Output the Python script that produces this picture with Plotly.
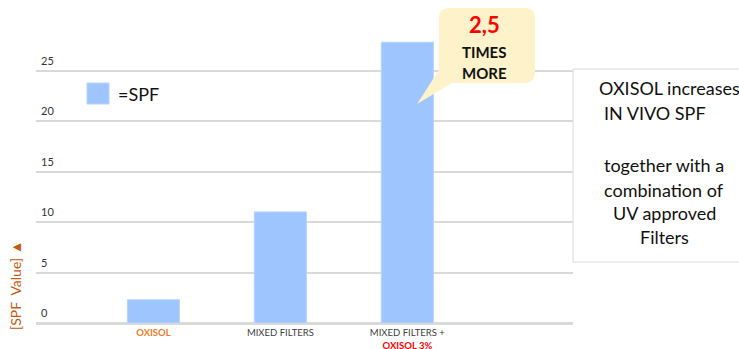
import plotly.graph_objects as go

# ---- data ----
categories = ["OXISOL", "MIXED FILTERS", "MIXED FILTERS + OXISOL 3%"]
spf_values = [2.3, 11.0, 27.8]
tick_labels = [
    "<b><span style='color:#F07C28'>OXISOL</span></b>",
    "MIXED FILTERS",
    "MIXED FILTERS +<br><b><span style='color:#FF0000'>OXISOL 3%</span></b>",
]
y_ticks = [0, 5, 10, 15, 20, 25]

# ---- layout geometry (pixels) ----
W, H = 739, 349
L, R, T, B = 36, 573, 20, 323
BAR = "#9FC5FE"
FONT = "Lato"


def xp(px):
    return (px - L) / (R - L)


def yp(py):
    return (B - py) / (B - T)


fig = go.Figure(
    go.Bar(
        x=categories,
        y=spf_values,
        marker=dict(color=BAR, line=dict(color="#B5D3FF", width=1)),
        width=0.41,
        showlegend=False,
    )
)

fig.update_layout(
    width=W,
    height=H,
    margin=dict(l=L, r=W - R, t=T, b=H - B),
    paper_bgcolor="white",
    plot_bgcolor="white",
    font=dict(family=FONT, color="#333333"),
    xaxis=dict(
        type="category",
        range=[-0.925, 3.305],
        tickvals=categories,
        ticktext=tick_labels,
        tickfont=dict(size=9.5, color="#404040"),
        showgrid=False,
        showline=True,
        linecolor="#D9D9D9",
        linewidth=1.5,
        ticks="",
        automargin=False,
    ),
    yaxis=dict(
        range=[0, 30],
        tickvals=y_ticks,
        showticklabels=False,
        showgrid=True,
        gridcolor="#D9D9D9",
        gridwidth=1.5,
        zeroline=True,
        zerolinecolor="#D9D9D9",
        zerolinewidth=1.5,
        ticks="",
        automargin=False,
    ),
)

# y tick labels sitting just above each gridline
for v in y_ticks:
    fig.add_annotation(xref="paper", yref="y", x=xp(39), y=v, yshift=2,
                       text=str(v), showarrow=False, xanchor="left", yanchor="bottom",
                       font=dict(size=11, color="#333333", family=FONT))

# legend swatch
fig.add_shape(type="rect", xref="paper", yref="paper",
              x0=xp(87), x1=xp(109), y0=yp(104), y1=yp(83),
              fillcolor=BAR, line=dict(color="#B5D3FF", width=1))
fig.add_annotation(xref="paper", yref="paper", x=xp(116), y=yp(94),
                   text="=SPF", showarrow=False, xanchor="left", yanchor="middle",
                   font=dict(size=18, color="#111111", family=FONT))

# callout bubble
x0, x1, y0, y1, r = 439, 535, 8, 83, 10
pts = [
    ("M", (x0 + r, y0)), ("L", (x1 - r, y0)), ("Q", (x1, y0), (x1, y0 + r)),
    ("L", (x1, y1 - r)), ("Q", (x1, y1), (x1 - r, y1)), ("L", (452, y1)),
    ("L", (417, 104)), ("L", (x0, 70)), ("L", (x0, y0 + r)),
    ("Q", (x0, y0), (x0 + r, y0)),
]
path = ""
for cmd, *coords in pts:
    path += cmd + " " + " ".join(f"{xp(a):.5f},{yp(b):.5f}" for a, b in coords) + " "
path += "Z"
fig.add_shape(type="path", xref="paper", yref="paper", path=path,
              fillcolor="#FDF2C9", line=dict(width=0), layer="above")
fig.add_annotation(xref="paper", yref="paper", x=xp(484), y=yp(25),
                   text="<b>2,5</b>", showarrow=False, xanchor="center", yanchor="middle",
                   font=dict(size=22, color="#FF0000", family=FONT))
for txt, py in (("TIMES", 52), ("MORE", 73)):
    fig.add_annotation(xref="paper", yref="paper", x=xp(484), y=yp(py),
                       text=f"<b>{txt}</b>", showarrow=False, xanchor="center",
                       yanchor="middle",
                       font=dict(size=15, color="#111111", family=FONT))

# text box
fig.add_shape(type="rect", xref="paper", yref="paper",
              x0=xp(573), x1=xp(760), y0=yp(262), y1=yp(69),
              fillcolor="white", line=dict(color="#D9D9D9", width=1), layer="above")
fig.add_annotation(xref="paper", yref="paper", x=xp(597), y=yp(88),
                   text="OXISOL increases", showarrow=False, xanchor="left", yanchor="middle",
                   font=dict(size=18, color="#111111", family=FONT))
fig.add_annotation(xref="paper", yref="paper", x=xp(602), y=yp(113),
                   text="IN VIVO SPF", showarrow=False, xanchor="left", yanchor="middle",
                   font=dict(size=18, color="#111111", family=FONT))
for txt, py in (("together with a", 165), ("combination of", 190),
                ("UV approved", 213), ("Filters", 237)):
    fig.add_annotation(xref="paper", yref="paper", x=xp(664), y=yp(py),
                       text=txt, showarrow=False, xanchor="center", yanchor="middle",
                       font=dict(size=18, color="#111111", family=FONT))

# y-axis title
fig.add_annotation(xref="paper", yref="paper", x=xp(15), y=yp(285),
                   text="[SPF  Value] ▲", showarrow=False, textangle=-90,
                   xanchor="center", yanchor="middle",
                   font=dict(size=14, color="#C55A11", family=FONT))

fig.write_html("out.html")
